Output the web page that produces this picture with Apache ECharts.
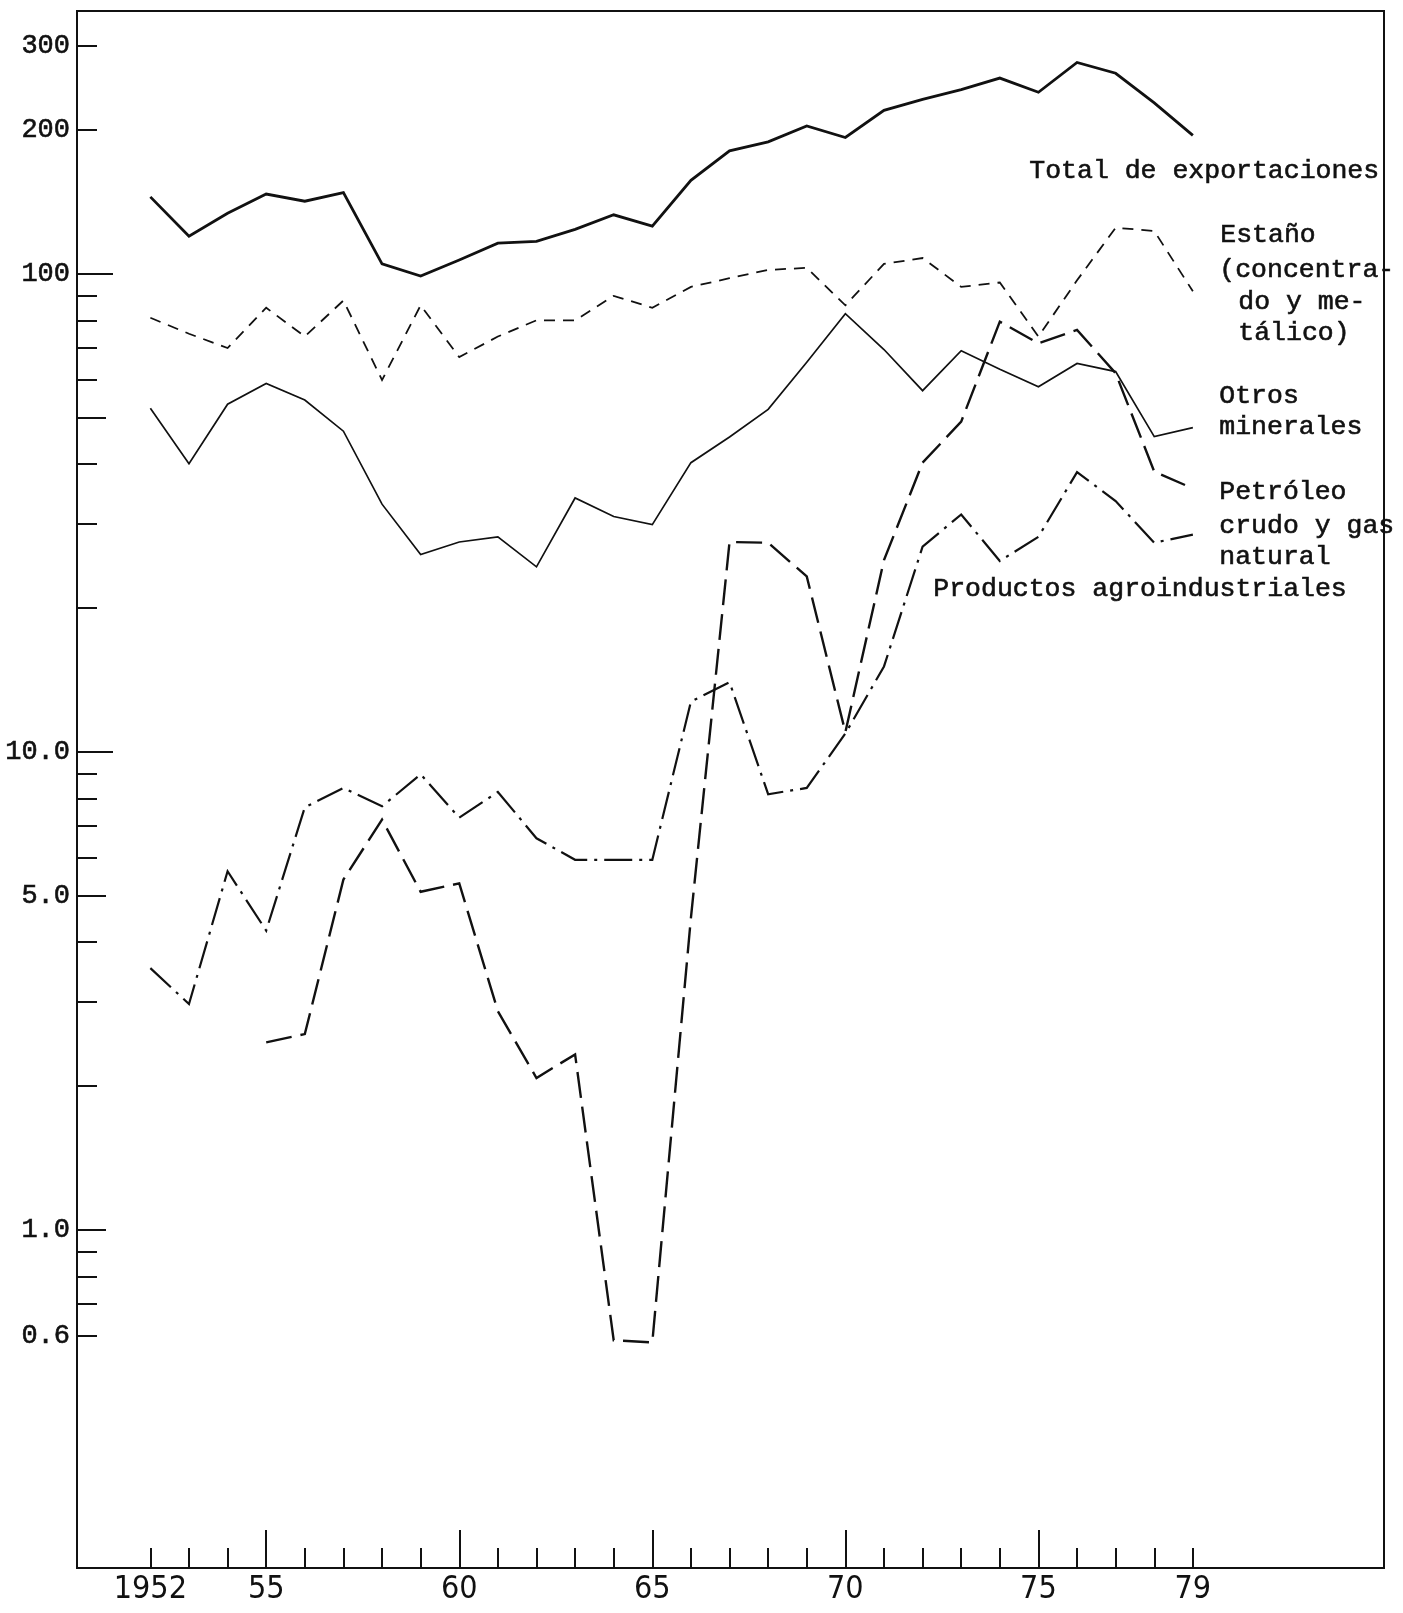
<!DOCTYPE html>
<html>
<head>
<meta charset="utf-8">
<script src="https://cdn.jsdelivr.net/npm/echarts@6/dist/echarts.min.js"></script>
<style>
  html, body { margin: 0; padding: 0; background: #ffffff; }
  #chart { width: 1403px; height: 1613px; }
</style>
</head>
<body>
<div id="chart"></div>
<script>
// Bolivia: exportaciones por grupos de productos, 1952-1979 (escala logarítmica)
const years = [1952, 1953, 1954, 1955, 1956, 1957, 1958, 1959, 1960, 1961, 1962, 1963, 1964, 1965,
               1966, 1967, 1968, 1969, 1970, 1971, 1972, 1973, 1974, 1975, 1976, 1977, 1978, 1979];

const totalExportaciones = [145, 120, 134, 147, 142, 148, 105, 99, 107, 116, 117, 124, 133, 126,
                            157, 181, 189, 204, 193, 220, 232, 243, 257, 240, 277, 263, 228, 195];

const estano = [81, 75, 70, 85, 74, 88, 60, 86, 67, 74, 80, 80, 90, 85,
                94, 98, 102, 103, 86, 105, 108, 94, 96, 74, 97, 125, 123, 92];

const otrosMinerales = [52.4, 40.1, 53.4, 59.0, 54.5, 46.9, 33.0, 25.9, 27.5, 28.2, 24.4, 34.0, 31.1, 29.9,
                        40.3, 45.6, 52.1, 65.4, 82.6, 69.5, 57.0, 69.1, 63.2, 58.1, 65.0, 62.5, 45.7, 47.7];

const petroleo = [null, null, null, 2.47, 2.57, 5.41, 7.22, 5.10, 5.31, 2.87, 2.08, 2.33, 0.588, 0.582,
                  4.5, 27.5, 27.4, 23.3, 11.0, 25.2, 40.3, 49.1, 79.5, 71.6, 76.4, 62.0, 38.6, 35.6];

const agroindustriales = [3.53, 2.97, 5.63, 4.23, 7.66, 8.41, 7.70, 8.98, 7.29, 8.25, 6.60, 5.95, 5.95, 5.95,
                          12.75, 14.0, 8.16, 8.41, 10.93, 15.1, 26.9, 31.4, 25.1, 28.2, 38.5, 33.5, 27.4, 28.5];

// axis marks
const yLabelValues = [300, 200, 100, 10, 5, 1, 0.6];
const yLabelTexts  = ['300', '200', '100', '10.0', '5.0', '1.0', '0.6'];
const yLongTicks   = [100, 10];
const yMidTicks    = [50, 5, 1];
const yShortTicks  = [300, 200, 90, 80, 70, 60, 40, 30, 20, 9, 8, 7, 6, 4, 3, 2, 0.9, 0.8, 0.7, 0.6];

const xLabelYears = [1952, 1955, 1960, 1965, 1970, 1975, 1979];
const xLongTicks  = [1955, 1960, 1965, 1970, 1975];
const xShortTicks = years.filter(y => xLongTicks.indexOf(y) < 0);

const Y_MIN = 0.1963, Y_MAX = 355;
const X_MIN = 1950.1, X_MAX = 1983.95;

const INK = '#111111';
const TYPE_FONT = "'Liberation Mono', 'DejaVu Sans Mono', monospace";
const HAND_FONT = "'Liberation Sans Narrow', 'DejaVu Sans Condensed', 'Liberation Sans', sans-serif";

const pairs = vals => years.map((y, i) => [y, vals[i]]);
const lg = v => Math.log10(v);

// helper axis laid out in log10 space, used only for tick marks and labels
function tickAxis(values, len, withLabels) {
  return {
    type: 'value',
    min: lg(Y_MIN), max: lg(Y_MAX),
    gridIndex: 0,
    position: 'left',
    axisLine: { show: false, onZero: false },
    splitLine: { show: false },
    axisTick: {
      show: true, inside: true, length: len,
      customValues: values.map(lg),
      lineStyle: { color: INK, width: 2 }
    },
    axisLabel: withLabels ? {
      show: true,
      customValues: yLabelValues.map(lg),
      margin: 7,
      color: INK,
      fontFamily: TYPE_FONT,
      fontSize: 27,
      textBorderColor: INK,
      textBorderWidth: 0.6,
      formatter: v => {
        let best = 0, d = Infinity;
        yLabelValues.forEach((lv, i) => {
          const dd = Math.abs(lg(lv) - v);
          if (dd < d) { d = dd; best = i; }
        });
        return yLabelTexts[best];
      }
    } : { show: false }
  };
}

function xTickAxis(values, len, withLabels) {
  return {
    type: 'value',
    min: X_MIN, max: X_MAX,
    gridIndex: 0,
    position: 'bottom',
    axisLine: { show: false, onZero: false },
    splitLine: { show: false },
    axisTick: {
      show: true, inside: true, length: len,
      customValues: values,
      lineStyle: { color: INK, width: 2 }
    },
    axisLabel: withLabels ? {
      show: true,
      customValues: xLabelYears,
      margin: 6,
      color: INK,
      fontFamily: HAND_FONT,
      fontSize: 32,
      formatter: v => {
        const y = Math.round(v);
        return y === 1952 ? '1952' : String(y).slice(2);
      }
    } : { show: false }
  };
}

const chart = echarts.init(document.getElementById('chart'), null, { renderer: 'canvas' });

const lineSeries = (name, vals, width, dash) => ({
  name,
  type: 'line',
  xAxisIndex: 0,
  yAxisIndex: 0,
  data: pairs(vals),
  symbol: 'none',
  connectNulls: false,
  lineStyle: { color: INK, width, type: dash, cap: 'butt', join: 'miter' },
  z: 3
});

const notes = [
  { t: 'Total de exportaciones', x: 1029, y: 172 },
  { t: 'Estaño', x: 1220, y: 236 },
  { t: '(concentra-', x: 1219, y: 271 },
  { t: 'do y me-', x: 1238, y: 303 },
  { t: 'tálico)', x: 1238, y: 334 },
  { t: 'Otros', x: 1219, y: 397 },
  { t: 'minerales', x: 1219, y: 428 },
  { t: 'Petróleo', x: 1219, y: 493 },
  { t: 'crudo y gas', x: 1219, y: 527 },
  { t: 'natural', x: 1219, y: 558 },
  { t: 'Productos agroindustriales', x: 933, y: 590 }
];

chart.setOption({
  animation: false,
  backgroundColor: '#ffffff',
  grid: {
    left: 77, right: 19, top: 11, bottom: 45,
    show: true, borderColor: INK, borderWidth: 2,
    backgroundColor: 'transparent'
  },
  xAxis: [
    {
      type: 'value', min: X_MIN, max: X_MAX, gridIndex: 0,
      axisLine: { show: false, onZero: false }, axisTick: { show: false },
      axisLabel: { show: false }, splitLine: { show: false }
    },
    xTickAxis(xLongTicks, 38, true),
    xTickAxis(xShortTicks, 20, false)
  ],
  yAxis: [
    {
      type: 'log', logBase: 10, min: Y_MIN, max: Y_MAX, gridIndex: 0,
      axisLine: { show: false, onZero: false }, axisTick: { show: false },
      axisLabel: { show: false }, splitLine: { show: false }, minorSplitLine: { show: false }
    },
    tickAxis(yLongTicks, 36, true),
    tickAxis(yMidTicks, 29, false),
    tickAxis(yShortTicks, 20, false)
  ],
  series: [
    lineSeries('Total de exportaciones', totalExportaciones, 2.8, 'solid'),
    lineSeries('Estaño (concentrado y metálico)', estano, 1.8, [11, 8]),
    lineSeries('Otros minerales', otrosMinerales, 1.7, 'solid'),
    lineSeries('Petróleo crudo y gas natural', petroleo, 2.4, [26, 9]),
    lineSeries('Productos agroindustriales', agroindustriales, 2.2, [28, 7, 3, 7])
  ],
  graphic: notes.map(n => ({
    type: 'text',
    left: n.x,
    top: n.y - 15,
    z: 10,
    style: {
      text: n.t,
      fill: INK,
      stroke: INK,
      lineWidth: 0.6,
      fontFamily: TYPE_FONT,
      fontSize: 26.5
    }
  }))
});
</script>
</body>
</html>
